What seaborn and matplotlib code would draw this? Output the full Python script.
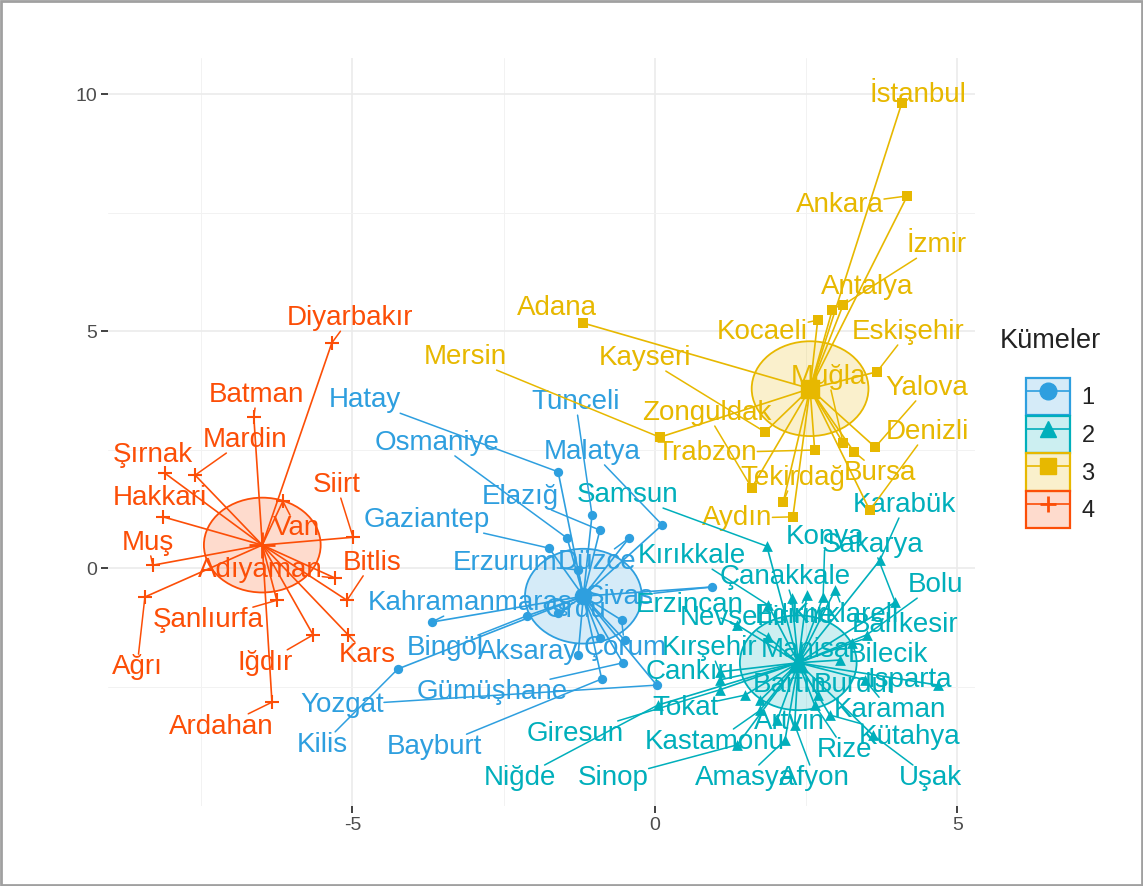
import numpy as np
import pandas as pd
import seaborn as sns
import matplotlib.pyplot as plt
from matplotlib.patches import Ellipse, Patch, Rectangle
from matplotlib.lines import Line2D
from matplotlib.legend_handler import HandlerTuple
from matplotlib.colors import to_rgba

# Kume 1
names_1 = ['Hatay', 'Osmaniye', 'Tunceli', 'Malatya', 'Elazığ', 'Gaziantep', 'Erzurum', 'Düzce',
           'Sivas', 'Kahramanmaraş', 'Ordu', 'Bingöl', 'Aksaray', 'Çorum', 'Gümüşhane', 'Yozgat',
           'Bayburt', 'Kilis', '', '']
x_1 = [-1.60, -1.45, -1.04, 0.12, -0.91, -1.75, -1.27, -0.43, 0.94, -3.69, -1.60, -2.12, -1.27,
       -0.55, -0.53, 0.03, -0.88, -4.25, -0.91, -0.50]
y_1 = [2.03, 0.63, 1.12, 0.91, 0.80, 0.42, -0.04, 0.63, -0.40, -1.14, -0.95, -1.01, -1.84,
       -1.10, -2.00, -2.47, -2.34, -2.13, -1.48, -1.52]
lx_1 = [-4.79, -3.60, -1.31, -1.04, -2.23, -3.77, -2.48, -0.96, -0.58, -3.06, -1.32, -3.47, -2.10,
        -0.50, -2.69, -5.17, -3.64, -5.50, 0, 0]
ly_1 = [3.54, 2.64, 3.50, 2.45, 1.50, 1.01, 0.11, 0.13, -0.61, -0.74, -0.89, -1.69, -1.77,
        -1.69, -2.62, -2.89, -3.78, -3.73, 0, 0]

# Kume 2
names_2 = ['Samsun', 'Kırıkkale', 'Çanakkale', 'Konya', 'Sakarya', 'Karabük', 'Bolu', 'Erzincan',
           'Nevşehir', 'Edirne', 'Kırklareli', 'Balıkesir', 'Bilecik', 'Manisa', 'Kırşehir',
           'Çankırı', 'Isparta', 'Bartın', 'Burdur', 'Tokat', 'Karaman', 'Artvin', 'Giresun',
           'Kastamonu', 'Kütahya', 'Rize', 'Niğde', 'Sinop', 'Amasya', 'Afyon', 'Uşak']
x_2 = [1.85, 1.87, 2.26, 2.78, 3.97, 3.72, 3.50, 1.36, 1.87, 2.51, 2.98, 3.26, 3.06, 2.40, 1.07,
       1.07, 4.68, 1.74, 2.69, 1.49, 3.47, 2.02, 1.07, 1.74, 2.89, 2.64, 0.05, 1.36, 2.15, 2.31, 3.60]
y_2 = [0.46, -0.78, -0.63, -0.61, -0.72, 0.17, -1.41, -1.20, -1.46, -0.57, -0.46, -1.58, -1.94,
       -1.84, -2.19, -2.36, -2.47, -2.79, -2.68, -2.68, -2.36, -3.21, -2.57, -3.00, -3.10, -2.89,
       -2.89, -3.73, -3.63, -3.31, -3.52]
lx_2 = [-0.45, 0.61, 2.15, 2.81, 3.60, 4.13, 4.63, 0.58, 1.32, 2.31, 3.14, 4.13, 3.85, 2.48, 0.91,
        0.58, 4.21, 2.23, 3.31, 0.50, 3.88, 2.23, -1.32, 0.99, 4.21, 3.14, -2.23, -0.69, 1.49, 2.64, 4.55]
ly_2 = [1.54, 0.25, -0.19, 0.65, 0.49, 1.33, -0.36, -0.78, -1.05, -1.01, -0.99, -1.20, -1.84,
        -1.73, -1.69, -2.19, -2.36, -2.47, -2.47, -2.95, -3.00, -3.25, -3.50, -3.67, -3.57, -3.84,
        -4.43, -4.43, -4.43, -4.43, -4.43]

# Kume 3
names_3 = ['İstanbul', 'Ankara', 'İzmir', 'Antalya', 'Kocaeli', 'Eskişehir', 'Adana', 'Mersin',
           'Kayseri', 'Muğla', 'Yalova', 'Denizli', 'Zonguldak', 'Trabzon', 'Tekirdağ', 'Bursa', 'Aydın']
x_3 = [4.08, 4.17, 3.11, 2.93, 2.69, 3.67, -1.19, 0.08, 1.82, 3.11, 3.64, 3.55, 1.60, 2.64, 2.12, 3.29, 2.28]
y_3 = [9.81, 7.85, 5.55, 5.44, 5.23, 4.14, 5.17, 2.76, 2.87, 2.64, 2.55, 1.22, 1.69, 2.49, 1.39, 2.45, 1.08]
lx_3 = [4.35, 3.06, 4.66, 3.50, 1.78, 4.18, -1.62, -3.14, -0.17, 2.86, 4.50, 4.50, 0.86, 0.86, 2.28, 3.72, 1.36]
ly_3 = [9.98, 7.66, 6.81, 5.93, 4.98, 4.98, 5.49, 4.45, 4.43, 4.03, 3.80, 2.87, 3.27, 2.43, 1.90, 2.00, 1.05]

# Kume 4
names_4 = ['Diyarbakır', 'Batman', 'Şırnak', 'Mardin', 'Hakkari', 'Muş', 'Van', 'Siirt', 'Adıyaman',
           'Şanlıurfa', 'Ağrı', 'Iğdır', 'Kars', 'Bitlis', 'Ardahan']
x_4 = [-5.34, -6.63, -8.10, -7.60, -8.13, -8.30, -6.15, -4.99, -5.29, -6.25, -8.43, -5.65, -5.07, -5.09, -6.33]
y_4 = [4.75, 3.19, 2.00, 1.96, 1.08, 0.06, 1.41, 0.65, -0.21, -0.68, -0.61, -1.41, -1.41, -0.68, -2.83]
lx_4 = [-5.04, -6.58, -8.30, -6.78, -8.18, -8.38, -5.92, -5.26, -6.53, -7.39, -8.56, -6.45, -4.76, -4.68, -7.16]
ly_4 = [5.27, 3.65, 2.38, 2.70, 1.48, 0.53, 0.84, 1.75, -0.04, -1.10, -2.09, -2.00, -1.84, 0.11, -3.35]

kumeler = [1, 2, 3, 4]
colors = {1: '#2E9FDF', 2: '#00AFBB', 3: '#E7B800', 4: '#FC4E07'}
markers = {1: 'o', 2: '^', 3: 's', 4: '+'}
sizes = {1: 45, 2: 60, 3: 50, 4: 110}

frames = []
for k, n, x, y, lx, ly in zip(kumeler, [names_1, names_2, names_3, names_4], [x_1, x_2, x_3, x_4],
                              [y_1, y_2, y_3, y_4], [lx_1, lx_2, lx_3, lx_4], [ly_1, ly_2, ly_3, ly_4]):
    frames.append(pd.DataFrame({'il': n, 'x': x, 'y': y, 'lx': lx, 'ly': ly, 'kume': k}))
df = pd.concat(frames, ignore_index=True)

sns.set_theme(style="white")
plt.rcParams['font.family'] = ['Liberation Sans', 'DejaVu Sans']
plt.rcParams['axes.unicode_minus'] = False

fig = plt.figure(figsize=(11.43, 8.86), dpi=100)
ax = fig.add_axes([108 / 1143, 1 - 806 / 886, (975 - 108) / 1143, (806 - 58) / 886])
ax.set_xlim(-9.04, 5.29)
ax.set_ylim(-5.02, 10.76)

for k, grp in df.groupby('kume'):
    col = colors[k]
    cx, cy = grp['x'].mean(), grp['y'].mean()
    ax.add_patch(Ellipse((cx, cy), 1.93, 2.0, facecolor=to_rgba(col, 0.2), edgecolor=col,
                         lw=1.3, zorder=1))
    for _, r in grp.iterrows():
        ax.plot([r['x'], cx], [r['y'], cy], color=col, lw=1.2, zorder=3)
    if markers[k] == '+':
        ax.scatter(grp['x'], grp['y'], marker='+', s=sizes[k], color=col, linewidths=1.5, zorder=4)
        ax.scatter([cx], [cy], marker='+', s=sizes[k] * 3, color=col, linewidths=2, zorder=4)
    else:
        sns.scatterplot(data=grp, x='x', y='y', marker=markers[k], s=sizes[k], color=col,
                        edgecolor=col, linewidth=0, ax=ax, legend=False, zorder=4)
        ax.scatter([cx], [cy], marker=markers[k], s=sizes[k] * 3, color=col, zorder=4)

# labels
texts = []
for _, r in df.iterrows():
    if r['il']:
        t = ax.text(r['lx'], r['ly'], r['il'], color=colors[r['kume']], fontsize=20,
                    ha='center', va='center', zorder=2)
        texts.append((t, r['x'], r['y'], colors[r['kume']]))

# repel-style segments from label box to point
fig.canvas.draw()
renderer = fig.canvas.get_renderer()
inv = ax.transData.inverted()
for t, px, py, col in texts:
    bb = t.get_window_extent(renderer)
    P = ax.transData.transform((px, py))
    C = np.array([(bb.x0 + bb.x1) / 2, (bb.y0 + bb.y1) / 2])
    if bb.x0 <= P[0] <= bb.x1 and bb.y0 <= P[1] <= bb.y1:
        continue
    d = P - C
    sx = (bb.width / 2) / abs(d[0]) if d[0] != 0 else np.inf
    sy = (bb.height / 2) / abs(d[1]) if d[1] != 0 else np.inf
    E = C + d * min(sx, sy)
    if np.hypot(*(P - E)) < 8:
        continue
    a, b = inv.transform(P), inv.transform(E)
    ax.plot([a[0], b[0]], [a[1], b[1]], color=col, lw=1.1, zorder=2.5)

ax.set_xticks([-5, 0, 5])
ax.set_yticks([0, 5, 10])
ax.set_xticks([-7.5, -2.5, 2.5], minor=True)
ax.set_yticks([-2.5, 2.5, 7.5], minor=True)
ax.grid(which='major', color='#EBEBEB', lw=1.2)
ax.grid(which='minor', color='#F2F2F2', lw=0.7)
ax.set_axisbelow(True)
ax.tick_params(axis='both', which='major', length=5, width=1.3, color='#333333',
               labelsize=14, labelcolor='#4D4D4D', left=True, bottom=True, pad=3)
ax.tick_params(which='minor', length=0)
for s in ax.spines.values():
    s.set_visible(False)
ax.set_xlabel('')
ax.set_ylabel('')

# legend
handles = []
for k in kumeler:
    col = colors[k]
    patch = Patch(facecolor=to_rgba(col, 0.2), edgecolor=col, linewidth=1.6)
    line = Line2D([], [], color=col, marker=markers[k], markersize=12, lw=1.2,
                  markeredgewidth=2 if k == 4 else 1.0)
    handles.append((patch, line))
fig.text(1000 / 1143, 1 - 341 / 886, 'Kümeler', fontsize=19.5, color='#222222', va='center', ha='left')
fig.legend(handles, [str(k) for k in kumeler], loc='upper left',
           bbox_to_anchor=(1026 / 1143, 1 - 378 / 886), frameon=False, fontsize=17,
           handlelength=1.85, handleheight=2.05, labelspacing=0.02, handletextpad=0.5,
           borderpad=0, borderaxespad=0, labelcolor='#222222',
           handler_map={tuple: HandlerTuple(ndivide=1, pad=0)})

fig.add_artist(Rectangle((0.001, 0.001), 0.998, 0.998, transform=fig.transFigure, fill=False,
                         edgecolor='#A0A0A0', lw=2))

fig.savefig('out.png', dpi=100)
